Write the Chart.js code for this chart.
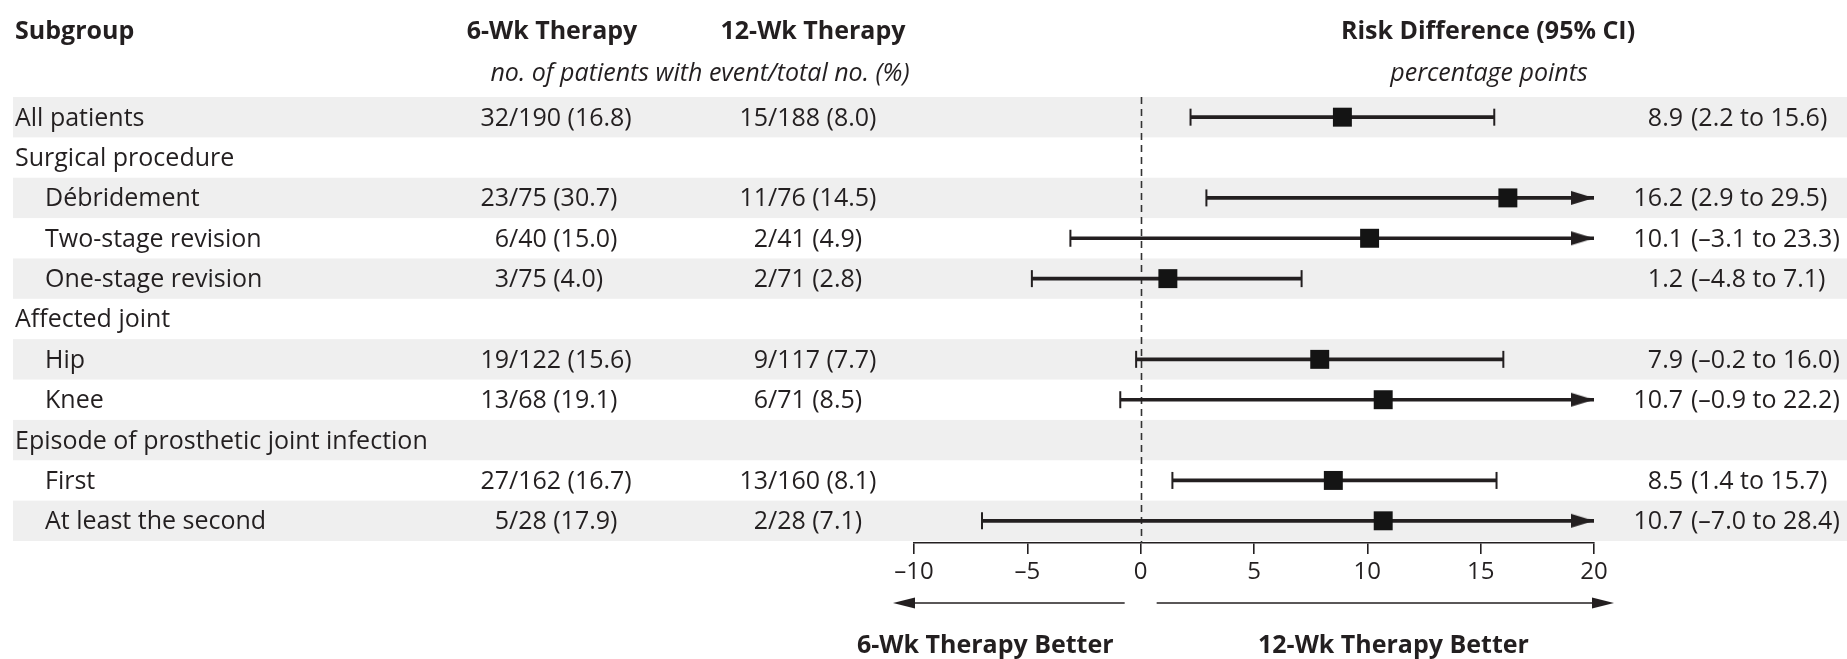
<!DOCTYPE html>
<html lang="en">
<head>
    <meta charset="UTF-8">
    <title>Risk Difference by Subgroup</title>
    <script src="https://cdn.jsdelivr.net/npm/chart.js@4.4.1/dist/chart.umd.min.js"></script>
    <style>
        body {
            margin: 0;
            background: #ffffff;
        }

        .chart-container {
            width: 1847px;
            height: 659px;
        }
    </style>
</head>
<body>
    <div class="chart-container">
        <canvas id="forestChart" width="1847" height="659"></canvas>
    </div>

    <script>
        // Subgroups, top to bottom (indent 1 = nested row)
        const subgroups = ['All patients', 'Surgical procedure', 'Débridement', 'Two-stage revision',
            'One-stage revision', 'Affected joint', 'Hip', 'Knee',
            'Episode of prosthetic joint infection', 'First', 'At least the second'];
        const indent = [0, 0, 1, 1, 1, 0, 1, 1, 0, 1, 1];

        // no. of patients with event/total no. (%)
        const sixWeek = ['32/190 (16.8)', '', '23/75 (30.7)', '6/40 (15.0)', '3/75 (4.0)', '',
            '19/122 (15.6)', '13/68 (19.1)', '', '27/162 (16.7)', '5/28 (17.9)'];
        const twelveWeek = ['15/188 (8.0)', '', '11/76 (14.5)', '2/41 (4.9)', '2/71 (2.8)', '',
            '9/117 (7.7)', '6/71 (8.5)', '', '13/160 (8.1)', '2/28 (7.1)'];

        // Risk difference (percentage points) with 95% CI
        const riskDiff = [8.9, null, 16.2, 10.1, 1.2, null, 7.9, 10.7, null, 8.5, 10.7];
        const ciLow = [2.2, null, 2.9, -3.1, -4.8, null, -0.2, -0.9, null, 1.4, -7.0];
        const ciHigh = [15.6, null, 29.5, 23.3, 7.1, null, 16.0, 22.2, null, 15.7, 28.4];

        const xTicks = [-10, -5, 0, 5, 10, 15, 20];

        const INK = '#231f20';
        const BAND = '#efefef';
        const FONT = '"Open Sans", "DejaVu Sans", sans-serif';
        const X_MIN = xTicks[0];
        const X_MAX = xTicks[xTicks.length - 1];

        const dash = v => (v < 0 ? '\u2013' + Math.abs(v).toFixed(1) : v.toFixed(1));
        const tickFmt = v => (v < 0 ? '\u2013' + Math.abs(v) : String(v));

        // datasets built from the arrays above
        const rowsWithData = subgroups.map((_, i) => i).filter(i => riskDiff[i] !== null);
        const whiskers = rowsWithData.map(i => ({ x: [ciLow[i], ciHigh[i]], y: i }));
        const estimates = rowsWithData.map(i => ({ x: riskDiff[i], y: i }));
        const caps = [];
        const arrows = [];
        rowsWithData.forEach(i => {
            caps.push({ x: ciLow[i], y: i });
            if (ciHigh[i] > X_MAX) arrows.push({ x: X_MAX, y: i });
            else caps.push({ x: ciHigh[i], y: i });
        });

        // arrow head whose tip sits at the point's centre
        function makeArrowHead(len, half) {
            const c = document.createElement('canvas');
            c.width = len * 2 + 2;
            c.height = half * 2 + 2;
            const g = c.getContext('2d');
            const tip = c.width / 2;
            g.fillStyle = INK;
            g.beginPath();
            g.moveTo(tip, half + 1);
            g.lineTo(tip - len, 1);
            g.lineTo(tip - len, half * 2 + 1);
            g.closePath();
            g.fill();
            return c;
        }

        function drawText(ctx, str, x, y, font, align) {
            ctx.font = font;
            ctx.textAlign = align || 'left';
            ctx.textBaseline = 'alphabetic';
            ctx.fillStyle = INK;
            ctx.fillText(str, x, y);
        }

        function arrowLine(ctx, x1, x2, y, len, half) {
            // line from x1 to x2, head at x2
            const dir = x2 > x1 ? 1 : -1;
            ctx.strokeStyle = INK;
            ctx.lineWidth = 1.6;
            ctx.beginPath();
            ctx.moveTo(x1, y);
            ctx.lineTo(x2 - dir * len * 0.8, y);
            ctx.stroke();
            ctx.fillStyle = INK;
            ctx.beginPath();
            ctx.moveTo(x2, y);
            ctx.lineTo(x2 - dir * len, y - half);
            ctx.lineTo(x2 - dir * len, y + half);
            ctx.closePath();
            ctx.fill();
        }

        const forestPlugin = {
            id: 'forestTable',
            beforeDraw(chart) {
                const { ctx, scales: { y } } = chart;
                ctx.save();
                ctx.fillStyle = BAND;
                subgroups.forEach((_, i) => {
                    if (i % 2 !== 0) return;
                    const top = y.getPixelForValue(i - 0.5);
                    const bottom = y.getPixelForValue(i + 0.5);
                    ctx.fillRect(13, top, chart.width - 13, bottom - top);
                });
                ctx.restore();
            },
            beforeDatasetsDraw(chart) {
                const { ctx, chartArea, scales: { x } } = chart;
                const x0 = Math.round(x.getPixelForValue(0)) + 0.5;
                ctx.save();
                ctx.strokeStyle = '#333333';
                ctx.lineWidth = 1.6;
                ctx.setLineDash([7, 5]);
                ctx.beginPath();
                ctx.moveTo(x0, chartArea.top);
                ctx.lineTo(x0, chartArea.bottom);
                ctx.stroke();
                ctx.restore();
            },
            afterDraw(chart) {
                const { ctx, scales: { x, y } } = chart;
                ctx.save();

                // column headers
                const bold = 'bold 25px ' + FONT;
                const italic = 'italic 25px ' + FONT;
                drawText(ctx, 'Subgroup', 15, 39, bold, 'left');
                drawText(ctx, '6-Wk Therapy', 552, 39, bold, 'center');
                drawText(ctx, '12-Wk Therapy', 813, 39, bold, 'center');
                drawText(ctx, 'Risk Difference (95% CI)', 1488, 39, bold, 'center');
                drawText(ctx, 'no. of patients with event/total no. (%)', 700, 81, italic, 'center');
                drawText(ctx, 'percentage points', 1489, 81, italic, 'center');

                // table rows
                const reg = '25px ' + FONT;
                subgroups.forEach((label, i) => {
                    const yc = y.getPixelForValue(i) + 8.5;
                    drawText(ctx, label, indent[i] ? 45 : 15, yc, reg, 'left');
                    [[sixWeek[i], 509], [twelveWeek[i], 768]].forEach(([s, slashX]) => {
                        if (!s) return;
                        const k = s.indexOf('/');
                        drawText(ctx, s.slice(0, k), slashX, yc, reg, 'right');
                        drawText(ctx, s.slice(k), slashX, yc, reg, 'left');
                    });
                    if (riskDiff[i] !== null) {
                        drawText(ctx, riskDiff[i].toFixed(1), 1683, yc, reg, 'right');
                        drawText(ctx, '(' + dash(ciLow[i]) + ' to ' + dash(ciHigh[i]) + ')', 1691, yc, reg, 'left');
                    }
                });

                // direction arrows below the axis
                const px0 = x.getPixelForValue(0);
                const pxMin = x.getPixelForValue(X_MIN);
                const pxMax = x.getPixelForValue(X_MAX);
                arrowLine(ctx, px0 - 16, pxMin - 21, 603, 22, 5.5);
                arrowLine(ctx, px0 + 16, pxMax + 20, 603, 22, 5.5);
                drawText(ctx, '6-Wk Therapy Better', 857, 653, bold, 'left');
                drawText(ctx, '12-Wk Therapy Better', 1258, 653, bold, 'left');

                ctx.restore();
            }
        };

        new Chart(document.getElementById('forestChart'), {
            type: 'scatter',
            data: {
                datasets: [
                    {
                        label: 'Risk difference',
                        data: estimates,
                        pointStyle: 'rect',
                        pointRadius: 13.4,
                        pointBackgroundColor: '#141414',
                        pointBorderWidth: 0,
                        order: 0,
                        clip: false
                    },
                    {
                        label: 'Upper bound beyond axis',
                        data: arrows,
                        pointStyle: makeArrowHead(23, 7),
                        pointRadius: 10,
                        order: 1,
                        clip: false
                    },
                    {
                        label: 'CI caps',
                        data: caps,
                        pointStyle: 'line',
                        pointRotation: 90,
                        pointRadius: 8.5,
                        pointBorderWidth: 2,
                        pointBorderColor: INK,
                        order: 2,
                        clip: false
                    },
                    {
                        type: 'bar',
                        label: '95% CI',
                        indexAxis: 'y',
                        data: whiskers,
                        backgroundColor: INK,
                        barThickness: 3,
                        order: 3,
                        clip: 0
                    }
                ]
            },
            options: {
                responsive: false,
                animation: false,
                events: [],
                devicePixelRatio: 1,
                layout: {
                    padding: { left: 914, right: 253, top: 97, bottom: 76 }
                },
                plugins: {
                    legend: { display: false },
                    tooltip: { enabled: false }
                },
                scales: {
                    x: {
                        type: 'linear',
                        min: X_MIN,
                        max: X_MAX,
                        afterBuildTicks: s => { s.ticks = xTicks.map(v => ({ value: v })); },
                        afterFit: s => { s.height = 40; },
                        border: { display: true, color: INK, width: 1.6 },
                        grid: {
                            drawOnChartArea: false,
                            drawTicks: true,
                            tickLength: 11,
                            color: INK,
                            lineWidth: 1.6
                        },
                        ticks: {
                            autoSkip: false,
                            maxRotation: 0,
                            padding: 4,
                            color: INK,
                            font: { family: FONT, size: 24 },
                            callback: v => tickFmt(v)
                        }
                    },
                    y: {
                        type: 'linear',
                        min: -0.5,
                        max: subgroups.length - 0.45,
                        reverse: true,
                        offset: false,
                        display: false
                    }
                }
            },
            plugins: [forestPlugin]
        });
    </script>
</body>
</html>
